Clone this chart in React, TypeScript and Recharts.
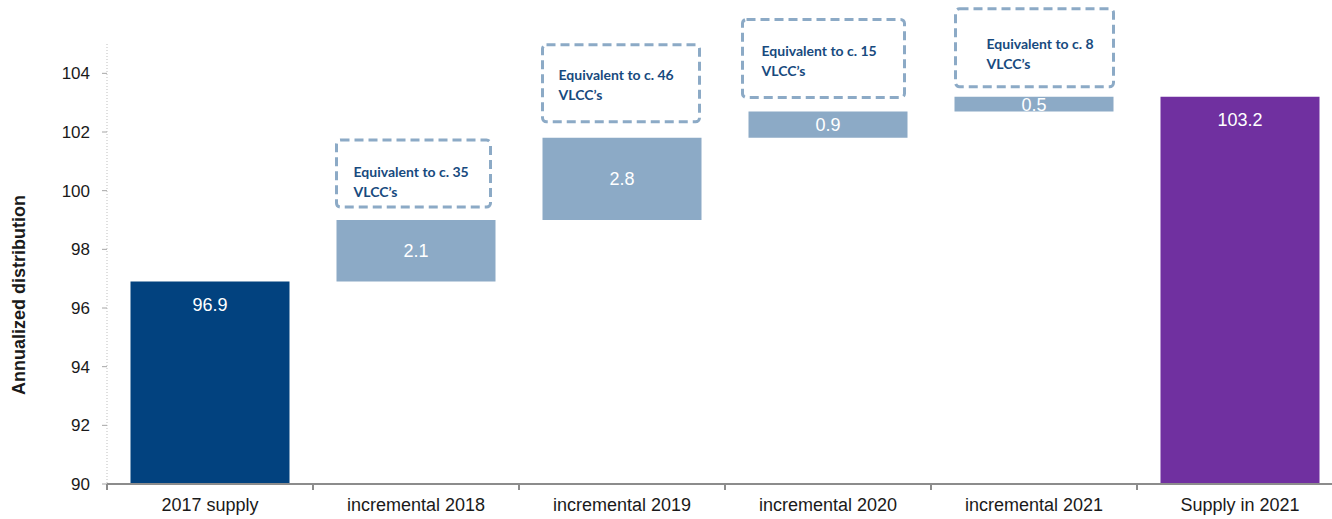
import { BarChart, Bar, XAxis, YAxis, Cell, LabelList, Label } from 'recharts'

const CATEGORIES = [
  '2017 supply',
  'incremental 2018',
  'incremental 2019',
  'incremental 2020',
  'incremental 2021',
  'Supply in 2021',
]
const VALUES = [96.9, 2.1, 2.8, 0.9, 0.5, 103.2]
const KINDS = ['total', 'delta', 'delta', 'delta', 'delta', 'total']
const NOTES = [
  '',
  'Equivalent to c. 35',
  'Equivalent to c. 46',
  'Equivalent to c. 15',
  'Equivalent to c. 8',
  '',
]
const Y_TICKS = [90, 92, 94, 96, 98, 100, 102, 104]
const Y_MIN = 90
const Y_MAX = 105

const COLORS = ['#02427f', '#8caac6', '#8caac6', '#8caac6', '#8caac6', '#7030a0']

// note box layout (px), per delta bar
const BOX_H = [0, 67, 77, 78, 78, 0]
const BOX_GAP = [0, 13, 16, 14, 10, 0]
const BOX_DX = [0, 0, 0, -6, 1, 0]
const BOX_DW = [0, -5, -2, 3, -1, 0]
const TEXT_DX = [0, 17, 16, 19, 31, 0]
const TEXT_DY = [0, 37, 35, 37, 40, 0]

const CHART_W = 1350
const MARGIN = { top: 44, right: 7, bottom: 5, left: 0 }
const Y_AXIS_W = 107
const BAND = (CHART_W - MARGIN.left - MARGIN.right - Y_AXIS_W) / CATEGORIES.length

// waterfall: each delta sits on the running total
let running = 0
const data = CATEGORIES.map((name, i) => {
  const v = VALUES[i]
  let range: [number, number]
  if (KINDS[i] === 'total') {
    range = [Y_MIN, v]
    running = v
  } else {
    range = [running, running + v]
    running += v
  }
  return { name, value: v, range }
})

const font = 'Liberation Sans, Arial, sans-serif'

function XTick(props: any) {
  const { x, y, payload, index } = props
  const isLast = index === CATEGORIES.length - 1
  return (
    <g>
      <line x1={x - BAND / 2} x2={x - BAND / 2} y1={y} y2={y + 6} stroke="#8c8c8c" strokeWidth={2} />
      {isLast && <line x1={x + BAND / 2} x2={x + BAND / 2} y1={y} y2={y + 6} stroke="#8c8c8c" strokeWidth={2} />}
      <text x={x} y={y + 27} textAnchor="middle" fontSize={18} fill="#1a1a1a" fontFamily={font}>
        {payload.value}
      </text>
    </g>
  )
}

function ValueLabel(props: any) {
  const { x, y, width, height, index } = props
  const top = Math.min(y, y + height)
  const h = Math.abs(height)
  const ty = KINDS[index] === 'total' ? top + 23 : top + h / 2
  return (
    <text
      x={x + width / 2}
      y={ty}
      dy="0.36em"
      textAnchor="middle"
      fontSize={18}
      fill="#ffffff"
      fontFamily={font}
    >
      {VALUES[index]}
    </text>
  )
}

function NoteBox(props: any) {
  const { x, y, width, height, index } = props
  if (!NOTES[index]) return null
  const top = Math.min(y, y + height)
  const bh = BOX_H[index]
  const by = top - BOX_GAP[index] - bh
  const bx = x + BOX_DX[index]
  const tx = bx + TEXT_DX[index]
  const ty = by + TEXT_DY[index]
  return (
    <g>
      <rect
        x={bx}
        y={by}
        width={width + BOX_DW[index]}
        height={bh}
        rx={4}
        fill="none"
        stroke="#8caac6"
        strokeWidth={3}
        strokeDasharray="9 5"
      />
      <text x={tx} y={ty} fontSize={14} fontWeight={700} fill="#174a7e" fontFamily="Lato, sans-serif">
        {NOTES[index]}
      </text>
      <text x={tx} y={ty + 20} fontSize={14} fontWeight={700} fill="#174a7e" fontFamily="Lato, sans-serif">
        VLCC’s
      </text>
    </g>
  )
}

export default function App() {
  return (
    <div style={{ position: 'absolute', left: 0, top: 0, width: 1332, height: 519, overflow: 'hidden', background: '#fff' }}>
      <BarChart width={CHART_W} height={519} data={data} margin={MARGIN} barCategoryGap={23.5}>
        <XAxis
          dataKey="name"
          height={30}
          tickSize={0}
          tickMargin={0}
          tick={<XTick />}
          tickLine={false}
          axisLine={{ stroke: '#8c8c8c', strokeWidth: 2 }}
          interval={0}
        />
        <YAxis
          width={Y_AXIS_W}
          domain={[Y_MIN, Y_MAX]}
          ticks={Y_TICKS}
          allowDataOverflow
          tickSize={5}
          tickMargin={12}
          tickLine={{ stroke: '#a6a6a6' }}
          axisLine={{ stroke: '#bfbfbf', strokeDasharray: '1 2' }}
          tick={{ fontSize: 17, fill: '#1a1a1a', fontFamily: font }}
        >
          <Label
            content={(p: any) => {
              const vb = p.viewBox
              return (
                <text
                  transform={`translate(19, ${vb.y + vb.height / 2 + 31}) rotate(-90)`}
                  textAnchor="middle"
                  dominantBaseline="central"
                  fontSize={18}
                  fontWeight={700}
                  fill="#1a1a1a"
                  fontFamily={font}
                >
                  Annualized distribution
                </text>
              )
            }}
          />
        </YAxis>
        <Bar dataKey="range" isAnimationActive={false}>
          {data.map((d, i) => (
            <Cell key={d.name} fill={COLORS[i]} />
          ))}
          <LabelList dataKey="value" content={<ValueLabel />} />
          <LabelList dataKey="value" content={<NoteBox />} />
        </Bar>
      </BarChart>
    </div>
  )
}
